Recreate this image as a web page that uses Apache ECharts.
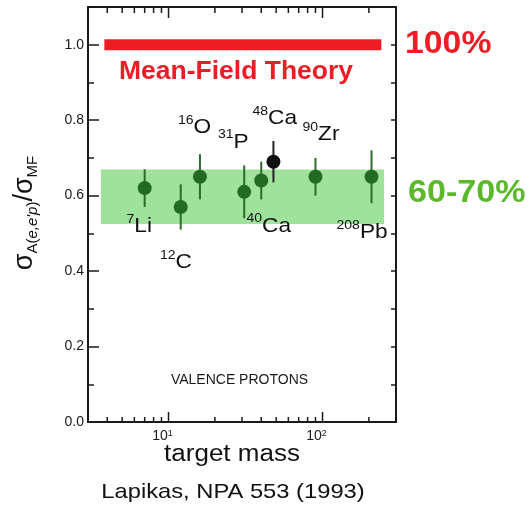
<!DOCTYPE html>
<html>
<head>
<meta charset="utf-8">
<script src="https://cdn.jsdelivr.net/npm/echarts@6/dist/echarts.min.js"></script>
<style>html,body{margin:0;padding:0;background:#fff}#main{width:530px;height:506px}</style>
</head>
<body>
<div id="main"></div>
<script>
var nuclei = ['7Li', '12C', '16O', '31P', '40Ca', '48Ca', '90Zr', '208Pb'];
var massNumbers = [7, 12, 16, 31, 40, 48, 90, 208];
var ratios = [0.62, 0.57, 0.65, 0.61, 0.64, 0.69, 0.65, 0.65];
var errors = [0.05, 0.06, 0.06, 0.07, 0.05, 0.055, 0.05, 0.07];
var xTickValues = [4, 5, 6, 7, 8, 9, 10, 20, 30, 40, 50, 60, 70, 80, 90, 100, 200];
var theoryLevel = 1.0;
var theorySpan = [3.83, 241];
var bandLevels = [0.525, 0.669];
var bandSpan = [3.64, 251];

var FONT = 'Liberation Sans, Arial, sans-serif';
var GREEN = '#236b23';
var RED = '#ee1c25';

var chartDom = document.getElementById('main');
var myChart = echarts.init(chartDom);

function isMajor(v) {
  var l = Math.log10(v);
  return Math.abs(l - Math.round(l)) < 1e-6;
}

// sup label: {s|16}{m|O}
function nucleusLabel(name, x, y) {
  var m = name.match(/^(\d+)(.*)$/);
  return {
    type: 'text', x: x, y: y, scaleX: 1.08, z: 20,
    style: {
      text: '{s|' + m[1] + '}{m|' + m[2] + '}',
      align: 'left', verticalAlign: 'middle',
      rich: {
        s: { fontSize: 13, lineHeight: 13, verticalAlign: 'top', fontFamily: FONT, fill: '#111' },
        m: { fontSize: 21, lineHeight: 28, fontFamily: FONT, fill: '#111' }
      }
    }
  };
}

var labelSpots = {
  '16O': [178, 127.5], '31P': [218, 142], '48Ca': [252.5, 118.7], '90Zr': [302.5, 134.7],
  '7Li': [126.5, 226.7], '12C': [160, 262.5], '40Ca': [246.5, 225.8], '208Pb': [336.5, 232.5]
};

var option = {
  animation: false,
  grid: {
    left: 88, top: 7, right: 134, bottom: 84,
    show: true, borderColor: '#1a1a1a', borderWidth: 2
  },
  xAxis: {
    type: 'log', logBase: 10, min: 3, max: 300,
    axisLine: { show: false }, axisTick: { show: false }, splitLine: { show: false },
    axisLabel: {
      margin: 7,
      padding: [0, 12, 0, 0],
      formatter: function (v) {
        if (!isMajor(v)) return '';
        return '{b|10}{s|' + Math.round(Math.log10(v)) + '}';
      },
      rich: {
        b: { fontSize: 14, lineHeight: 14, fontFamily: FONT, color: '#1a1a1a' },
        s: { fontSize: 9, lineHeight: 9, verticalAlign: 'top', fontFamily: FONT, color: '#1a1a1a' }
      }
    }
  },
  yAxis: [
    {
      type: 'value', min: 0, max: 1.1, interval: 0.2, position: 'left',
      axisLine: { show: false },
      axisTick: { show: true, inside: true, length: 11, lineStyle: { color: '#1a1a1a', width: 1.5 } },
      splitLine: { show: false },
      axisLabel: {
        margin: 4, fontSize: 14, fontFamily: FONT, color: '#1a1a1a',
        formatter: function (v) { return v > 1.05 ? '' : v.toFixed(1); }
      }
    },
    {
      type: 'value', min: 0, max: 1.1, interval: 0.1, position: 'left',
      axisLine: { show: false },
      axisTick: { show: true, inside: true, length: 6, lineStyle: { color: '#1a1a1a', width: 1.5 } },
      splitLine: { show: false }, axisLabel: { show: false }
    },
    {
      type: 'value', min: 0, max: 1.1, interval: 0.1, position: 'right',
      axisLine: { show: false },
      axisTick: { show: true, inside: true, length: 5, lineStyle: { color: '#1a1a1a', width: 1.5 } },
      splitLine: { show: false }, axisLabel: { show: false }
    }
  ],
  series: [
    {
      type: 'line', z: 1, silent: true, symbol: 'none',
      data: [[theorySpan[0], theoryLevel], [theorySpan[1], theoryLevel]],
      lineStyle: { color: RED, width: 11, cap: 'butt' },
      markArea: {
        silent: true,
        itemStyle: { color: '#9fe29b', opacity: 1 },
        data: [[{ coord: [bandSpan[0], bandLevels[0]] }, { coord: [bandSpan[1], bandLevels[1]] }]]
      }
    },
    {
      // log-spaced ticks on bottom and top edges
      type: 'custom', z: 10, silent: true, clip: false,
      data: xTickValues.map(function (v) { return [v]; }),
      renderItem: function (params, api) {
        var v = api.value(0);
        var len = isMajor(v) ? 10 : 5;
        var b = api.coord([v, 0]);
        var t = api.coord([v, 1.1]);
        var st = { stroke: '#1a1a1a', lineWidth: 1.5 };
        return {
          type: 'group',
          children: [
            { type: 'line', shape: { x1: b[0], y1: b[1], x2: b[0], y2: b[1] - len }, style: st },
            { type: 'line', shape: { x1: t[0], y1: t[1], x2: t[0], y2: t[1] + len + 1 }, style: st }
          ]
        };
      }
    },
    {
      type: 'custom', z: 4, silent: true,
      data: massNumbers.map(function (m, i) { return [m, ratios[i] - errors[i], ratios[i] + errors[i]]; }),
      renderItem: function (params, api) {
        var lo = api.coord([api.value(0), api.value(1)]);
        var hi = api.coord([api.value(0), api.value(2)]);
        var black = nuclei[params.dataIndex] === '48Ca';
        return {
          type: 'line',
          shape: { x1: lo[0], y1: lo[1], x2: hi[0], y2: hi[1] },
          style: { stroke: black ? '#222' : '#2c6b2c', lineWidth: 2 }
        };
      }
    },
    {
      type: 'scatter', z: 5, symbolSize: 14,
      data: massNumbers.map(function (m, i) {
        return {
          value: [m, ratios[i]],
          itemStyle: { color: nuclei[i] === '48Ca' ? '#111' : GREEN, opacity: 1 }
        };
      })
    }
  ],
  graphic: [
    {
      type: 'text', x: 236, y: 72, scaleX: 1.06, z: 20,
      style: { text: 'Mean-Field Theory', align: 'center', verticalAlign: 'middle',
        font: 'bold 25px ' + FONT, fill: RED }
    },
    {
      type: 'text', x: 405, y: 44, scaleX: 1.09, z: 20,
      style: { text: '100%', align: 'left', verticalAlign: 'middle',
        font: 'bold 31px ' + FONT, fill: RED }
    },
    {
      type: 'text', x: 408, y: 193.5, scaleX: 1.1, z: 20,
      style: { text: '60-70%', align: 'left', verticalAlign: 'middle',
        font: 'bold 31px ' + FONT, fill: '#5cb92b' }
    },
    {
      type: 'text', x: 239.5, y: 380, z: 20,
      style: { text: 'VALENCE PROTONS', align: 'center', verticalAlign: 'middle',
        font: '14px ' + FONT, fill: '#1a1a1a' }
    },
    {
      type: 'text', x: 232, y: 455, scaleX: 1.13, z: 20,
      style: { text: 'target mass', align: 'center', verticalAlign: 'middle',
        font: '23px ' + FONT, fill: '#111' }
    },
    {
      type: 'text', x: 233, y: 492.5, scaleX: 1.13, z: 20,
      style: { text: 'Lapikas, NPA 553 (1993)', align: 'center', verticalAlign: 'middle',
        font: '21px ' + FONT, fill: '#111' }
    },
    {
      type: 'text', x: 25, y: 213, rotation: Math.PI / 2, z: 20,
      style: {
        text: '{m|σ}{s|A(}{i|e,e\'p}{s|)}{m|/σ}{s|MF}',
        align: 'center', verticalAlign: 'middle',
        rich: {
          m: { fontSize: 27, lineHeight: 30, fontFamily: FONT, fill: '#111' },
          s: { fontSize: 15, lineHeight: 15, verticalAlign: 'bottom', fontFamily: FONT, fill: '#111' },
          i: { fontSize: 15, lineHeight: 15, verticalAlign: 'bottom', fontStyle: 'italic', fontFamily: FONT, fill: '#111' }
        }
      }
    }
  ].concat(nuclei.map(function (n) {
    return nucleusLabel(n, labelSpots[n][0], labelSpots[n][1]);
  }))
};

option && myChart.setOption(option);

window.onresize = function () {
  myChart.resize();
};
</script>
</body>
</html>
